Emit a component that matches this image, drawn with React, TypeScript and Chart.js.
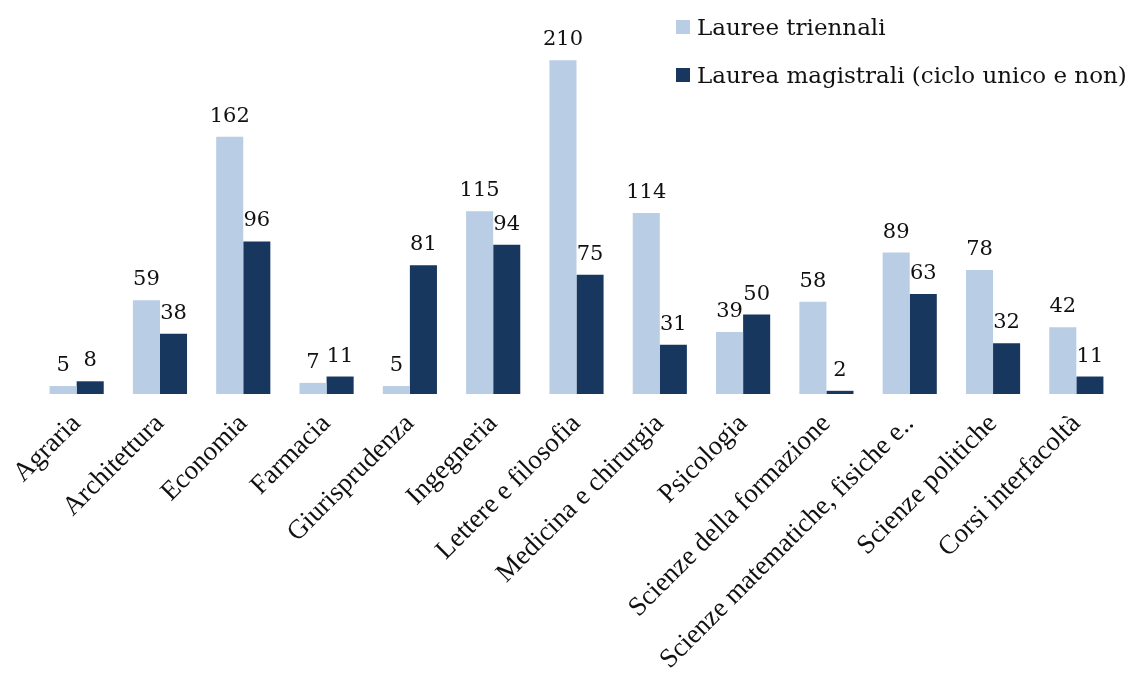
import React, { useEffect, useRef } from "react";
import { Chart, registerables } from "chart.js";

Chart.register(...registerables);

const categories = [
  "Agraria",
  "Architettura",
  "Economia",
  "Farmacia",
  "Giurisprudenza",
  "Ingegneria",
  "Lettere e filosofia",
  "Medicina e chirurgia",
  "Psicologia",
  "Scienze della formazione",
  "Scienze matematiche, fisiche e..",
  "Scienze politiche",
  "Corsi interfacoltà",
];
const triennali = [5, 59, 162, 7, 5, 115, 210, 114, 39, 58, 89, 78, 42];
const magistrali = [8, 38, 96, 11, 81, 94, 75, 31, 50, 2, 63, 32, 11];
const seriesNames = ["Lauree triennali", "Laurea magistrali (ciclo unico e non)"];
const colors = ["#B9CDE5", "#17375E"];

const valueLabels = {
  id: "valueLabels",
  afterDatasetsDraw(chart: any) {
    const ctx = chart.ctx;
    ctx.save();
    ctx.font = "21px 'DejaVu Serif', serif";
    ctx.fillStyle = "#111";
    ctx.textAlign = "center";
    ctx.textBaseline = "alphabetic";
    chart.data.datasets.forEach((ds: any, di: number) => {
      const meta = chart.getDatasetMeta(di);
      meta.data.forEach((bar: any, i: number) => {
        ctx.fillText(String(ds.data[i]), bar.x, bar.y - 15);
      });
    });
    ctx.restore();
  },
};

export default function App() {
  const ref = useRef<HTMLCanvasElement>(null);
  useEffect(() => {
    const chart = new Chart(ref.current!, {
      type: "bar",
      data: {
        labels: categories,
        datasets: [
          { label: seriesNames[0], data: triennali, backgroundColor: colors[0], categoryPercentage: 0.65, barPercentage: 1 },
          { label: seriesNames[1], data: magistrali, backgroundColor: colors[1], categoryPercentage: 0.65, barPercentage: 1 },
        ],
      },
      options: {
        animation: false,
        responsive: false,
        maintainAspectRatio: false,
        layout: { padding: { left: 35, right: 10, top: 0, bottom: 0 } },
        plugins: { legend: { display: false }, tooltip: { enabled: false } },
        scales: {
          y: { display: false, min: 0, max: 248 },
          x: {
            grid: { display: false, drawTicks: false },
            border: { display: false },
            ticks: {
              minRotation: 45,
              maxRotation: 45,
              autoSkip: false,
              color: "#111",
              padding: 14,
              font: { family: "'Liberation Serif', serif", size: 27 },
            },
            afterFit: (scale: any) => {
              scale.height = 283;
            },
          },
        },
      },
      plugins: [valueLabels],
    });
    return () => chart.destroy();
  }, []);
  const legendRow = (i: number, top: number) => (
    <div style={{ position: "absolute", left: 676, top, height: 30, display: "flex", alignItems: "center", whiteSpace: "nowrap" }}>
      <span style={{ width: 14, height: 14, background: colors[i], display: "inline-block", marginRight: 7 }} />
      <span style={{ fontFamily: "'DejaVu Serif', serif", fontSize: 23, lineHeight: "30px", color: "#111" }}>{seriesNames[i]}</span>
    </div>
  );
  return (
    <div style={{ position: "absolute", left: 0, top: 0, width: 1128, height: 677, background: "#fff" }}>
      <canvas ref={ref} width={1128} height={677} style={{ position: "absolute", left: 0, top: 0 }} />
      {legendRow(0, 12)}
      {legendRow(1, 60)}
    </div>
  );
}
